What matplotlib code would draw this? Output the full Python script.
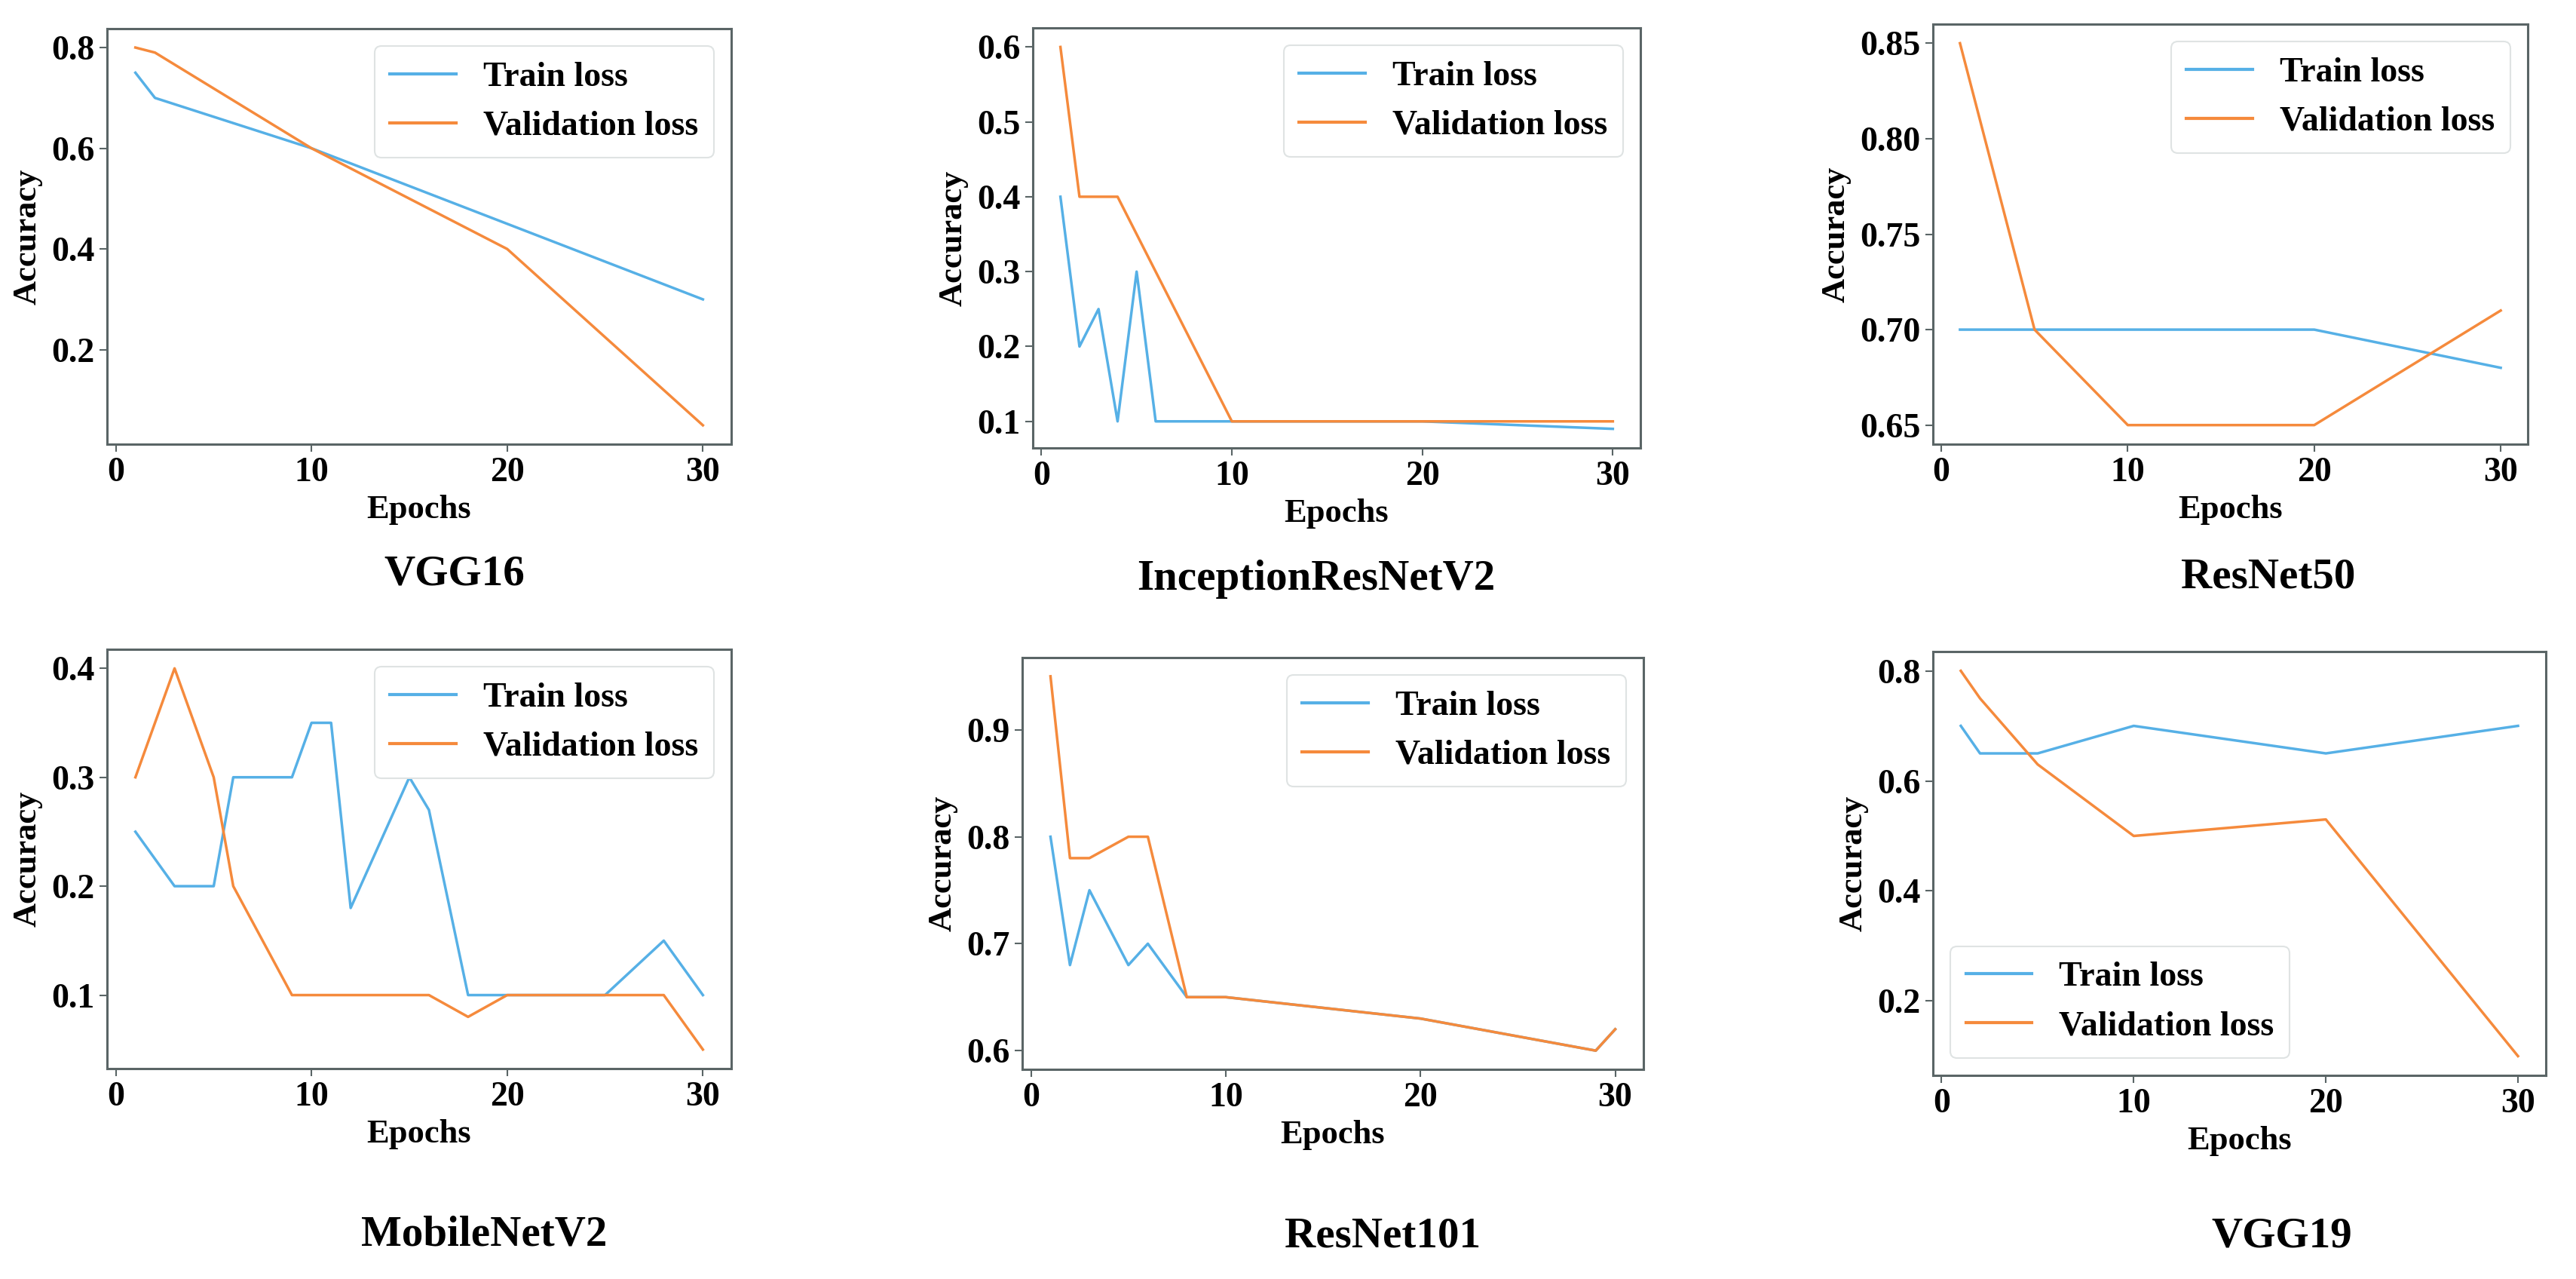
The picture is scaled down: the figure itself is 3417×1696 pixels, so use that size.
import matplotlib
matplotlib.use("Agg")
import matplotlib.pyplot as plt
from matplotlib.ticker import MultipleLocator

plt.rcParams['font.family'] = ['Liberation Serif', 'DejaVu Serif']
plt.rcParams['font.weight'] = 'bold'

# ---- data ----
vgg16_train_x = [1, 2, 10, 20, 30]
vgg16_train_y = [0.75, 0.70, 0.60, 0.45, 0.30]
vgg16_val_x = [1, 2, 10, 20, 30]
vgg16_val_y = [0.80, 0.79, 0.60, 0.40, 0.05]

incep_train_x = [1, 2, 3, 4, 5, 6, 10, 20, 30]
incep_train_y = [0.40, 0.20, 0.25, 0.10, 0.30, 0.10, 0.10, 0.10, 0.09]
incep_val_x = [1, 2, 4, 10, 20, 30]
incep_val_y = [0.60, 0.40, 0.40, 0.10, 0.10, 0.10]

res50_train_x = [1, 5, 10, 20, 30]
res50_train_y = [0.70, 0.70, 0.70, 0.70, 0.68]
res50_val_x = [1, 5, 10, 20, 30]
res50_val_y = [0.85, 0.70, 0.65, 0.65, 0.71]

mob_train_x = [1, 3, 5, 6, 9, 10, 11, 12, 15, 16, 18, 20, 25, 28, 30]
mob_train_y = [0.25, 0.20, 0.20, 0.30, 0.30, 0.35, 0.35, 0.18, 0.30, 0.27, 0.10, 0.10, 0.10, 0.15, 0.10]
mob_val_x = [1, 3, 5, 6, 9, 16, 18, 20, 28, 30]
mob_val_y = [0.30, 0.40, 0.30, 0.20, 0.10, 0.10, 0.08, 0.10, 0.10, 0.05]

res101_train_x = [1, 2, 3, 5, 6, 8, 10, 20, 29, 30]
res101_train_y = [0.80, 0.68, 0.75, 0.68, 0.70, 0.65, 0.65, 0.63, 0.60, 0.62]
res101_val_x = [1, 2, 3, 5, 6, 8, 10, 20, 29, 30]
res101_val_y = [0.95, 0.78, 0.78, 0.80, 0.80, 0.65, 0.65, 0.63, 0.60, 0.62]

vgg19_train_x = [1, 2, 5, 10, 20, 30]
vgg19_train_y = [0.70, 0.65, 0.65, 0.70, 0.65, 0.70]
vgg19_val_x = [1, 2, 5, 10, 20, 30]
vgg19_val_y = [0.80, 0.75, 0.63, 0.50, 0.53, 0.10]

titles = ["VGG16", "InceptionResNetV2", "ResNet50", "MobileNetV2", "ResNet101", "VGG19"]
series = [
    (vgg16_train_x, vgg16_train_y, vgg16_val_x, vgg16_val_y),
    (incep_train_x, incep_train_y, incep_val_x, incep_val_y),
    (res50_train_x, res50_train_y, res50_val_x, res50_val_y),
    (mob_train_x, mob_train_y, mob_val_x, mob_val_y),
    (res101_train_x, res101_train_y, res101_val_x, res101_val_y),
    (vgg19_train_x, vgg19_train_y, vgg19_val_x, vgg19_val_y),
]
ytick_steps = [0.2, 0.1, 0.05, 0.1, 0.1, 0.2]
legend_locs = ["upper right"] * 5 + ["lower left"]

# ---- layout (pixels in 3417x1696 canvas) ----
W, H = 3417, 1696
boxes = [  # L, R, T, B
    (142, 970, 38, 589),
    (1370, 2176, 37, 594),
    (2564, 3353, 32, 589),
    (142, 970, 861, 1417),
    (1356, 2180, 872, 1418),
    (2564, 3377, 864, 1426),
]
title_pos = [(603, 762), (1746, 768), (3009, 766), (642, 1638), (1834, 1639), (3027, 1639)]

TRAIN_C = '#56B0E6'
VAL_C = '#F58A3C'
SPINE_C = '#5a6566'

fig = plt.figure(figsize=(W / 100, H / 100), dpi=100)
fig.patch.set_facecolor('white')

for i in range(6):
    L, R, T, B = boxes[i]
    ax = fig.add_axes([L / W, 1 - B / H, (R - L) / W, (B - T) / H])
    tx, ty, vx, vy = series[i]
    ax.plot(tx, ty, color=TRAIN_C, lw=2.5, label='Train loss')
    ax.plot(vx, vy, color=VAL_C, lw=2.5, label='Validation loss')
    ax.xaxis.set_major_locator(MultipleLocator(10))
    ax.yaxis.set_major_locator(MultipleLocator(ytick_steps[i]))
    ax.tick_params(labelsize=33, length=7, width=1.5, color=SPINE_C, pad=5)
    for lab in ax.get_xticklabels() + ax.get_yticklabels():
        lab.set_fontweight('bold')
    for s in ax.spines.values():
        s.set_color(SPINE_C)
        s.set_linewidth(2.2)
    ax.set_xlabel('Epochs', fontsize=32, fontweight='bold', labelpad=6)
    ax.set_ylabel('Accuracy', fontsize=32, fontweight='bold', labelpad=8)
    leg = ax.legend(loc=legend_locs[i], frameon=True, fancybox=True,
                    edgecolor='#dfe3e3', framealpha=1.0, handlelength=1.9,
                    borderpad=0.45, labelspacing=0.5, handletextpad=0.8,
                    prop={'family': ['Liberation Serif'], 'weight': 'bold', 'size': 33})
    leg.get_frame().set_linewidth(1.5)
    for line in leg.get_lines():
        line.set_linewidth(3)
    xt, yt = title_pos[i]
    fig.text(xt / W, 1 - yt / H, titles[i], fontsize=41, fontweight='bold',
             ha='center', va='center')

fig.savefig('out.png', dpi=100, facecolor='white')
